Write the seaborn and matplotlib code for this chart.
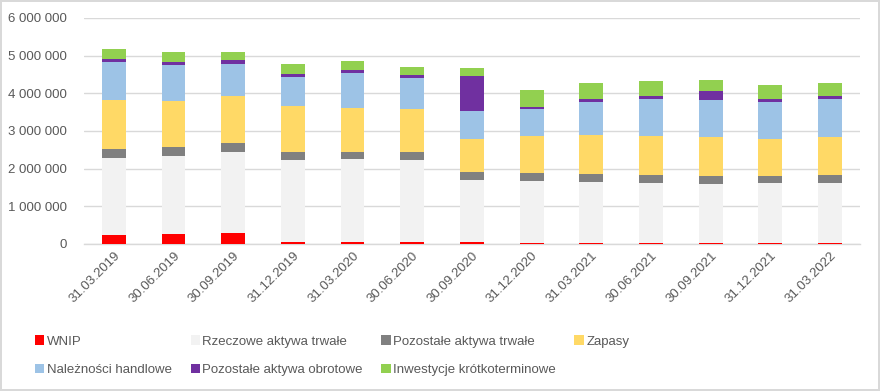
import numpy as np
import pandas as pd
import matplotlib.pyplot as plt
import seaborn as sns
from matplotlib.patches import Patch
from matplotlib.ticker import FuncFormatter, FixedLocator

sns.set_style("white")
plt.rcParams["font.family"] = ["Liberation Sans", "DejaVu Sans"]

# -----------------------------
# Data (values in PLN)
# -----------------------------
dates = ["31.03.2019", "30.06.2019", "30.09.2019", "31.12.2019", "31.03.2020",
         "30.06.2020", "30.09.2020", "31.12.2020", "31.03.2021", "30.06.2021",
         "30.09.2021", "31.12.2021", "31.03.2022"]

wnip = [250000, 273000, 300000, 60000, 60000, 60000, 60000,
        35000, 35000, 35000, 35000, 35000, 35000]
rzeczowe = [2035000, 2067000, 2140000, 2170000, 2200000, 2170000, 1640000,
            1645000, 1615000, 1585000, 1565000, 1585000, 1585000]
pozostale_trwale = [235000, 240000, 240000, 210000, 180000, 210000, 210000,
                    210000, 210000, 210000, 210000, 190000, 210000]
zapasy = [1310000, 1220000, 1250000, 1220000, 1170000, 1140000, 880000,
          980000, 1030000, 1040000, 1030000, 980000, 1010000]
naleznosci = [1010000, 960000, 840000, 760000, 920000, 820000, 740000,
              710000, 880000, 980000, 980000, 980000, 1010000]
pozostale_obrotowe = [70000, 80000, 110000, 80000, 80000, 80000, 930000,
                      50000, 80000, 80000, 240000, 80000, 80000]
inwestycje = [260000, 260000, 210000, 270000, 240000, 210000, 210000,
              450000, 420000, 390000, 290000, 370000, 340000]

series = [
    ("WNIP", wnip, "#FF0000"),
    ("Rzeczowe aktywa trwałe", rzeczowe, "#F2F2F2"),
    ("Pozostałe aktywa trwałe", pozostale_trwale, "#808080"),
    ("Zapasy", zapasy, "#FFD966"),
    ("Należności handlowe", naleznosci, "#9DC3E6"),
    ("Pozostałe aktywa obrotowe", pozostale_obrotowe, "#7030A0"),
    ("Inwestycje krótkoterminowe", inwestycje, "#92D050"),
]

# cumulative tops for stacking (draw tallest first, smaller ones over it)
cum = np.cumsum([s[1] for s in series], axis=0)

# -----------------------------
# Plot
# -----------------------------
fig = plt.figure(figsize=(8.8, 3.91), dpi=100, facecolor="white",
                 edgecolor="#D9D9D9", linewidth=1.5)
ax = fig.add_axes([0.0955, 0.376, 0.8815, 0.578])

for i in range(len(series) - 1, -1, -1):
    df = pd.DataFrame({"date": dates, "value": cum[i]})
    sns.barplot(data=df, x="date", y="value", order=dates, color=series[i][2],
                saturation=1, width=0.4, edgecolor="none", linewidth=0,
                ax=ax, zorder=3)

ax.set_ylim(0, 6000000)
ax.set_xlim(-0.5, len(dates) - 0.5)
ax.set_yticks(np.arange(0, 6000001, 1000000))
ax.yaxis.set_major_formatter(FuncFormatter(lambda v, p: f"{int(v):,}".replace(",", " ")))
ax.grid(axis="y", color="#D9D9D9", linewidth=1, zorder=0)
ax.set_axisbelow(True)
ax.set_xlabel("")
ax.set_ylabel("")

for s in ["top", "right", "left"]:
    ax.spines[s].set_visible(False)
ax.spines["bottom"].set_color("#D9D9D9")
ax.spines["bottom"].set_linewidth(1)

ax.tick_params(axis="y", length=0, labelsize=9.5, labelcolor="#595959", pad=12)
ax.tick_params(axis="x", which="major", length=0, labelsize=9.5,
               labelcolor="#595959", pad=4)
ax.xaxis.set_minor_locator(FixedLocator(np.arange(-0.5, len(dates), 1)))
ax.tick_params(axis="x", which="minor", length=5, color="#D9D9D9", width=1)
plt.setp(ax.get_xticklabels(), rotation=45, ha="right", rotation_mode="anchor")

# -----------------------------
# Legend: rows as in the original, matplotlib fills columns first
# -----------------------------
order = [0, 4, 1, 5, 2, 6, 3]
handles = [Patch(facecolor=series[k][2], edgecolor="none") for k in order]
labels = [series[k][0] for k in order]
fig.legend(handles, labels, ncol=4, loc="upper left",
           bbox_to_anchor=(0.04, 0.142), frameon=False, fontsize=9.5,
           labelcolor="#595959", handlelength=0.7, handleheight=0.7,
           handletextpad=0.2, columnspacing=1.4, labelspacing=1.2,
           borderaxespad=0, borderpad=0)

fig.savefig("out.png", dpi=100, facecolor="white", edgecolor=fig.get_edgecolor())
